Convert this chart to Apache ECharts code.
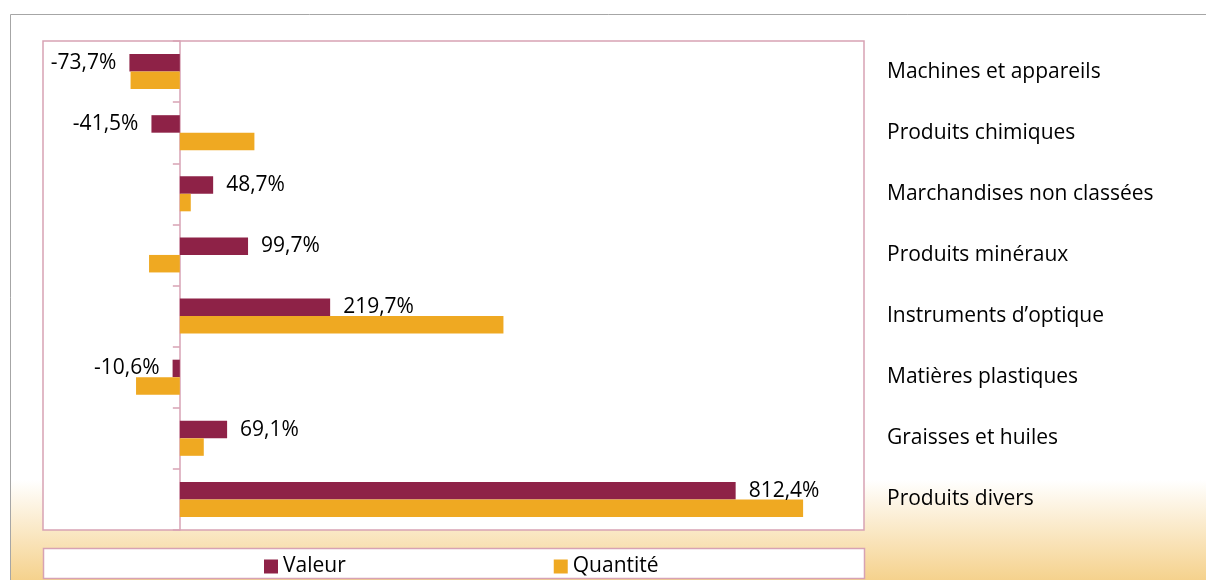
<!DOCTYPE html>
<html>
<head>
<meta charset="utf-8">
<script src="https://cdn.jsdelivr.net/npm/echarts@6/dist/echarts.min.js"></script>
<style>
html,body{margin:0;padding:0;background:#fff;}
#c{width:1206px;height:580px;}
</style>
</head>
<body>
<div id="c"></div>
<script>
const categories = ["Machines et appareils","Produits chimiques","Marchandises non classées","Produits minéraux","Instruments d’optique","Matières plastiques","Graisses et huiles","Produits divers"];
const valeur = [-73.7, -41.5, 48.7, 99.7, 219.7, -10.6, 69.1, 812.4];
const quantite = [-72, 109, 16, -45, 473, -64, 35, 911];
const seriesNames = ["Valeur", "Quantité"];

const FONT = "Open Sans";
const FS = 21;
const chart = echarts.init(document.getElementById('c'), null, {renderer: 'canvas'});

function fmt(v){ return v.toFixed(1).replace('.', ',') + '%'; }

const option = {
  animation: false,
  textStyle: {fontFamily: FONT},
  graphic: [
    {type: 'rect', z: -10, shape: {x: 10.5, y: 14.5, width: 1300, height: 700},
     style: {fill: new echarts.graphic.LinearGradient(0, 0, 0, 1, [
       {offset: 0, color: '#ffffff'}, {offset: 0.665, color: '#ffffff'}, {offset: 0.81, color: '#F5D18B'}, {offset: 1, color: '#F3CB80'}]),
       stroke: '#A6A6A6', lineWidth: 1}},
    {type: 'rect', z: -5, shape: {x: 43.5, y: 548.5, width: 821, height: 30},
     style: {fill: '#ffffff', stroke: '#D7A2B4', lineWidth: 1.5}}
  ],
  grid: {left: 43, top: 41, right: 342, bottom: 50, show: true, backgroundColor: '#ffffff', borderColor: '#D7A2B4', borderWidth: 1.5},
  legend: {
    data: seriesNames, left: 259, top: 551, itemWidth: 14, itemHeight: 14, itemGap: 208,
    icon: 'rect', textStyle: {fontFamily: FONT, fontSize: FS, color: '#000'}
  },
  xAxis: {type: 'value', min: -200, max: 1000, show: false, splitLine: {show: false}},
  yAxis: [
    {type: 'category', data: categories, inverse: true, position: 'left',
     axisLine: {show: true, onZero: true, lineStyle: {color: '#D7A2B4', width: 1.5}},
     axisTick: {show: true, length: 7, inside: false, lineStyle: {color: '#D7A2B4', width: 1.5}},
     axisLabel: {show: false}},
    {type: 'category', data: categories, inverse: true, position: 'right',
     axisLine: {show: false}, axisTick: {show: false},
     axisLabel: {show: true, margin: 23, align: 'left', fontFamily: FONT, fontSize: FS, color: '#000'}}
  ],
  series: [
    {name: seriesNames[0], type: 'bar', yAxisIndex: 0, barWidth: 17.5, barGap: '0%',
     itemStyle: {color: '#8E2247'},
     data: valeur.map(v => ({value: v, label: {position: v < 0 ? 'left' : 'right'}})),
     label: {show: true, distance: 13, fontFamily: FONT, fontSize: FS, color: '#000', formatter: p => fmt(p.value)}},
    {name: seriesNames[1], type: 'bar', yAxisIndex: 0, barWidth: 17.5, barGap: '0%',
     itemStyle: {color: '#EFA922'},
     data: quantite}
  ]
};
chart.setOption(option);
</script>
</body>
</html>
